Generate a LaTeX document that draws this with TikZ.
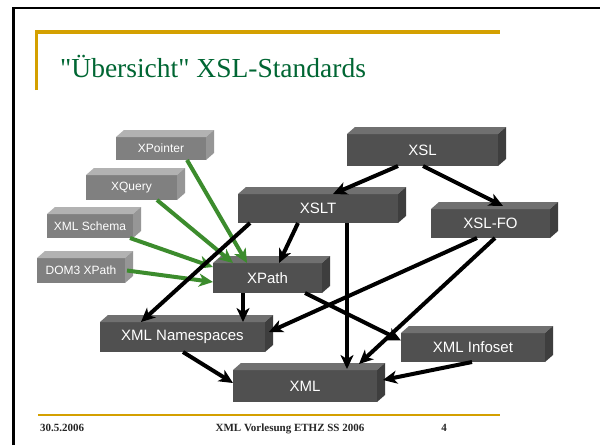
\documentclass[tikz,border=0pt]{standalone}
\usepackage{fontspec}
\setmainfont{Liberation Serif}
\newfontfamily\titlefont{Liberation Serif}[Ligatures=TeXOff]
\newfontfamily\boxfont{Liberation Sans}
\usetikzlibrary{arrows.meta,calc}
\definecolor{titlegreen}{RGB}{0,102,51}
\definecolor{gold}{RGB}{212,160,0}
\definecolor{arrowgreen}{RGB}{60,140,45}
\definecolor{dfront}{RGB}{80,80,80}
\definecolor{dtop}{RGB}{112,112,112}
\definecolor{dside}{RGB}{62,62,62}
\definecolor{lfront}{RGB}{128,128,128}
\definecolor{ltop}{RGB}{178,178,178}
\definecolor{lside}{RGB}{150,150,150}
\newcommand{\cubebox}[7]{%
  \node[#6box, minimum width={(#4-#2)*1pt}, minimum height={(#5-#3)*1pt}]
    (#1) at ({(#2+#4)/2},{(#3+#5)/2}) {#7};
  \fill[#6top] (#1.north west) -- ++(8pt,7pt) -- ([shift={(8pt,7pt)}]#1.north east) -- (#1.north east) -- cycle;
  \fill[#6side] (#1.north east) -- ++(8pt,7pt) -- ([shift={(8pt,7pt)}]#1.south east) -- (#1.south east) -- cycle;
}
\begin{document}
\begin{tikzpicture}[x=1pt,y=-1pt,
  dbox/.style={fill=dfront, text=white, inner sep=0pt, outer sep=0pt, font=\boxfont\fontsize{15}{18}\selectfont},
  lbox/.style={fill=lfront, text=white, inner sep=0pt, outer sep=0pt, font=\boxfont\fontsize{12}{14}\selectfont},
  dtop/.style={fill=dtop}, dside/.style={fill=dside},
  ltop/.style={fill=ltop}, lside/.style={fill=lside},
  blk/.style={line width=4pt, black, -{Stealth[length=14pt,width=13pt,inset=4pt]}},
  grn/.style={line width=4pt, arrowgreen, -{Stealth[length=14pt,width=13pt,inset=4pt]}},
  frame/.style={line width=2.5pt, black},
  goldline/.style={line width=3.5pt, gold},
  foot/.style={font=\bfseries\fontsize{11}{13}\selectfont, text=black!85}]
\useasboundingbox (0,0) rectangle (600,445);
\fill[white] (0,0) rectangle (600,445);
% frame
\coordinate (fa) at (13.5,445);
\coordinate (fb) at (13.5,8);
\coordinate (fc) at (600,8);
\draw[frame] (fa) -- (fb) -- (fc);
% title bar
\coordinate (ga) at (36.5,90);
\coordinate (gb) at (36.5,32);
\coordinate (gc) at (500,32);
\draw[goldline] (ga) -- (gb) -- (gc);
\node[anchor=base west, text=titlegreen, font=\titlefont\fontsize{27.5}{32}\selectfont, inner sep=0pt] (title) at (60,77) {"Übersicht" XSL-Standards};
% footer
\coordinate (fl) at (38,415);
\coordinate (fr) at (500,415);
\draw[line width=2.5pt, gold] (fl) -- (fr);
\node[foot, anchor=base west, inner sep=0pt] (date) at (40,431) {30.5.2006};
\node[foot, anchor=base, inner sep=0pt] (ftext) at (290,431) {XML Vorlesung ETHZ SS 2006};
\node[foot, anchor=base east, inner sep=0pt] (num) at (447,431) {4};
% boxes
\cubebox{xsl}{347}{134}{498}{166}{d}{XSL}
\cubebox{xslt}{238}{194}{398}{223}{d}{XSLT}
\cubebox{xslfo}{431}{209}{550}{238}{d}{XSL-FO}
\cubebox{xpath}{213}{263}{322}{293}{d}{XPath}
\cubebox{xmlns}{100}{322}{265}{352}{d}{XML Namespaces}
\cubebox{infoset}{401}{333}{545}{362}{d}{XML Infoset}
\cubebox{xml}{233}{370}{377}{402}{d}{XML}
\cubebox{xpointer}{116}{137}{206}{160}{l}{XPointer}
\cubebox{xquery}{86}{175}{177}{200}{l}{XQuery}
\cubebox{xmlschema}{47}{214}{133}{238}{l}{XML Schema}
\cubebox{dom3}{37}{258}{125}{283}{l}{DOM3 XPath}
% green arrows
\draw[grn] ([xshift=26pt]xpointer.south) -- ([xshift=-20.5pt]xpath.north);
\draw[grn] ([xshift=25.5pt]xquery.south) -- ([xshift=-34.5pt]xpath.north);
\draw[grn] ([xshift=40pt]xmlschema.south) -- ([yshift=11pt]xpath.west);
\draw[grn] ([xshift=2pt]dom3.east) -- ([yshift=-4pt]xpath.west);
% black arrows
\draw[blk] ([xshift=-24.5pt]xsl.south) -- ([xshift=15pt]xslt.north);
\draw[blk] ([xshift=0.5pt]xsl.south) -- ([xshift=12.5pt,yshift=3pt]xslfo.north);
\draw[blk] ([xshift=-20pt]xslt.south) -- ([xshift=11.5pt]xpath.north);
\draw[blk] ([xshift=29pt]xslt.south) -- ([xshift=42pt,yshift=1pt]xml.north);
\draw[blk] ([xshift=-68pt]xslt.south) -- ([xshift=-41.5pt]xmlns.north);
\draw[blk] ([xshift=-24.5pt]xpath.south) -- ([xshift=60.5pt]xmlns.north);
\draw[blk] ([xshift=37.5pt]xpath.south) -- ([yshift=7pt]infoset.west);
\draw[blk] ([xshift=-13.5pt]xslfo.south) -- ([xshift=4pt,yshift=5pt]xmlns.east);
\draw[blk] ([xshift=4.5pt]xslfo.south) -- ([xshift=54pt,yshift=6pt]xml.north);
\draw[blk] ([xshift=0.5pt]xmlns.south) -- ([yshift=3pt]xml.west);
\draw[blk] ([xshift=-1pt]infoset.south) -- ([xshift=6pt,yshift=6pt]xml.east);
\end{tikzpicture}
\end{document}
